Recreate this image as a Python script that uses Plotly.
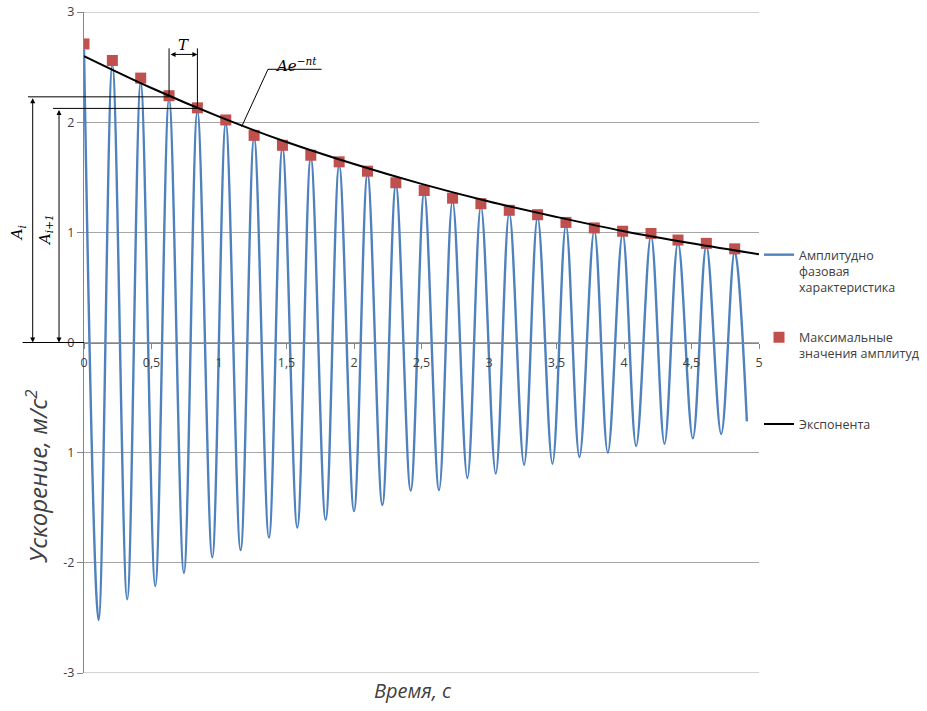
import plotly.graph_objects as go

# ---------------- data ----------------
peak_t = [0.00, 0.21, 0.42, 0.63, 0.84, 1.05, 1.26, 1.47, 1.68, 1.89, 2.10, 2.31,
          2.52, 2.73, 2.94, 3.15, 3.36, 3.57, 3.78, 3.99, 4.20, 4.40, 4.61, 4.82]
max_amp = [2.71, 2.56, 2.40, 2.24, 2.13, 2.02, 1.88, 1.79, 1.70, 1.64, 1.555, 1.45,
           1.38, 1.31, 1.26, 1.20, 1.16, 1.09, 1.04, 1.01, 0.99, 0.93, 0.90, 0.85]
wave_peak = [2.66, 2.52, 2.36, 2.21, 2.10, 1.99, 1.86, 1.77, 1.68, 1.61, 1.53, 1.43,
             1.36, 1.29, 1.24, 1.18, 1.14, 1.07, 1.02, 0.99, 0.97, 0.91, 0.88, 0.83]
trough_t = [0.108, 0.32, 0.528, 0.74, 0.95, 1.16, 1.37, 1.58, 1.79, 2.00, 2.21, 2.42,
            2.63, 2.84, 3.05, 3.26, 3.47, 3.67, 3.88, 4.09, 4.30, 4.51, 4.72]
trough_v = [-2.52, -2.33, -2.21, -2.09, -1.95, -1.885, -1.77, -1.68, -1.61, -1.53, -1.475, -1.345,
            -1.34, -1.23, -1.19, -1.11, -1.10, -1.04, -1.00, -0.94, -0.92, -0.87, -0.83]
end_t = [4.91]
end_v = [-0.715]

exp_t = [0.0, 0.5, 1.0, 1.5, 2.0, 2.5, 3.0, 3.5, 4.0, 4.5, 5.0]
exp_v = [2.60, 2.31, 2.05, 1.82, 1.62, 1.44, 1.28, 1.14, 1.01, 0.90, 0.80]

x_tickvals = [0, 0.5, 1, 1.5, 2, 2.5, 3, 3.5, 4, 4.5, 5]
x_ticktext = ["0", "0,5", "1", "1,5", "2", "2,5", "3", "3,5", "4", "4,5", "5"]
y_tickvals = [-3, -2, -1, 0, 1, 2, 3]
y_ticktext = ["-3", "-2", "1", "0", "1", "2", "3"]

names = ["Амплитудно<br>фазовая<br>характеристика",
         "Максимальные<br>значения амплитуд",
         "Экспонента"]

# diagram annotation levels (values)
A_i_level = 2.23
A_i1_level = 2.125
T_arrow_level = 2.615
T_top_level = 2.67

# ---------------- build wave from extremes ----------------
wave_t, wave_v = [], []
for i in range(len(peak_t)):
    wave_t.append(peak_t[i]); wave_v.append(wave_peak[i])
    if i < len(trough_t):
        wave_t.append(trough_t[i]); wave_v.append(trough_v[i])
wave_t += end_t
wave_v += end_v

BLUE = "#4F81BD"
RED = "#C0504D"
TXT = "#404040"
GRID = "#A6A6A6"
AX = "#868686"
FONT = "Open Sans"
MATH = "DejaVu Serif"

fig = go.Figure()
fig.add_trace(go.Scatter(x=wave_t, y=wave_v, mode="lines", name=names[0],
                         line=dict(color=BLUE, width=2.4, shape="spline", smoothing=1.0),
                         legend="legend"))
fig.add_trace(go.Scatter(x=peak_t, y=max_amp, mode="markers", name=names[1],
                         marker=dict(symbol="square", size=11, color=RED),
                         legend="legend2"))
fig.add_trace(go.Scatter(x=exp_t, y=exp_v, mode="lines", name=names[2],
                         line=dict(color="black", width=2, shape="spline"),
                         legend="legend3"))

leg_common = dict(xanchor="left", yanchor="top", bgcolor="rgba(0,0,0,0)",
                  font=dict(family=FONT, size=12.5, color=TXT), valign="top")

fig.update_layout(
    width=927, height=711,
    margin=dict(l=84, r=168, t=12, b=38, autoexpand=False),
    paper_bgcolor="white", plot_bgcolor="white",
    showlegend=True,
    legend=dict(x=1.0, y=0.655, **leg_common),
    legend2=dict(x=1.0, y=0.530, **leg_common),
    legend3=dict(x=1.0, y=0.399, **leg_common),
    xaxis=dict(range=[0, 5], anchor="free", position=0.5, showline=True, automargin=False,
               linecolor=AX, linewidth=1, ticks="outside", ticklen=5, tickcolor=AX,
               ticklabelstandoff=3, ticklabeloverflow="allow",
               tickvals=x_tickvals, ticktext=x_ticktext, showgrid=False, zeroline=False,
               tickfont=dict(family=FONT, size=12.5, color=TXT)),
    yaxis=dict(range=[-3, 3], showline=True, linecolor=AX, linewidth=1, automargin=False,
               ticks="outside", ticklen=6, tickcolor=AX, ticklabeloverflow="allow",
               tickvals=y_tickvals, ticktext=y_ticktext, showgrid=True,
               gridcolor=GRID, gridwidth=1, zeroline=False,
               tickfont=dict(family=FONT, size=12.5, color=TXT)),
)

# axis titles
fig.add_annotation(text="<i>Ускорение, м/с<sup>2</sup></i>", textangle=-90, xref="paper", yref="paper",
                   x=-0.07, y=0.297, showarrow=False,
                   font=dict(family=FONT, size=24, color=TXT), xanchor="center", yanchor="middle")
fig.add_annotation(text="<i>Время, с</i>", xref="paper", yref="paper",
                   x=0.487, y=-0.026, showarrow=False,
                   font=dict(family=FONT, size=20, color=TXT), xanchor="center", yanchor="middle")

lw = dict(color="black", width=1)
shapes = []
# edge gridlines (plotly drops grid lines lying on the plot edges)
for v in (y_tickvals[0], y_tickvals[-1]):
    shapes.append(dict(type="line", xref="paper", yref="y", x0=0, x1=1, y0=v, y1=v,
                       line=dict(color=GRID, width=1), layer="below"))
# A_i and A_i+1 horizontal reference lines
shapes.append(dict(type="line", xref="paper", yref="y", x0=-0.083, x1=peak_t[3] / 5,
                   y0=A_i_level, y1=A_i_level, line=lw))
shapes.append(dict(type="line", xref="paper", yref="y", x0=-0.046, x1=peak_t[4] / 5,
                   y0=A_i1_level, y1=A_i1_level, line=lw))
shapes.append(dict(type="line", xref="paper", yref="y", x0=-0.091, x1=0,
                   y0=0, y1=0, line=lw))
# T vertical lines
shapes.append(dict(type="line", xref="x", yref="y", x0=peak_t[3], x1=peak_t[3],
                   y0=max_amp[3], y1=T_top_level, line=lw))
shapes.append(dict(type="line", xref="x", yref="y", x0=peak_t[4], x1=peak_t[4],
                   y0=max_amp[4], y1=T_top_level, line=lw))
# Ae^-nt leader
shapes.append(dict(type="line", xref="x", yref="y", x0=1.168, x1=1.363,
                   y0=1.96, y1=2.48, line=lw))
shapes.append(dict(type="line", xref="x", yref="y", x0=1.363, x1=1.76,
                   y0=2.48, y1=2.48, line=lw))
fig.update_layout(shapes=shapes)

arrow = dict(showarrow=True, text="", arrowhead=2, arrowsize=1, arrowwidth=1,
             arrowcolor="black", arrowside="end+start", standoff=0, startstandoff=0)
# vertical double arrows
fig.add_annotation(xref="paper", yref="y", x=-0.076, y=0, axref="pixel", ax=0,
                   ayref="y", ay=A_i_level, **arrow)
fig.add_annotation(xref="paper", yref="y", x=-0.037, y=0, axref="pixel", ax=0,
                   ayref="y", ay=A_i1_level, **arrow)
# T arrow
fig.add_annotation(xref="x", yref="y", x=peak_t[4], y=T_arrow_level, axref="x", ax=peak_t[3],
                   ayref="y", ay=T_arrow_level, **arrow)

mfont = dict(family=MATH, size=15, color="black")
fig.add_annotation(text="<i>T</i>", xref="x", yref="y", x=(peak_t[3] + peak_t[4]) / 2, y=2.70,
                   showarrow=False, font=mfont, xanchor="center")
fig.add_annotation(text="<i>Ae</i><sup>−<i>nt</i></sup>", xref="x", yref="y", x=1.574, y=2.52,
                   showarrow=False, font=mfont, xanchor="center")
fig.add_annotation(text="<i>A<sub>i</sub></i>", textangle=-90, xref="paper", yref="y",
                   x=-0.098, y=0.99, showarrow=False, font=mfont, xanchor="center", yanchor="middle")
fig.add_annotation(text="<i>A<sub>i+1</sub></i>", textangle=-90, xref="paper", yref="y",
                   x=-0.058, y=1.02, showarrow=False, font=mfont, xanchor="center", yanchor="middle")

fig.write_html("out.html", config={"displayModeBar": False},
               post_script="document.body.style.margin='0';document.body.style.overflow='hidden';")
